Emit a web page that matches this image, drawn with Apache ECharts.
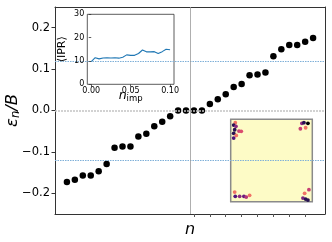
<!DOCTYPE html>
<html><head><meta charset="utf-8">
<script src="https://cdn.jsdelivr.net/npm/echarts@6/dist/echarts.min.js"></script>
<style>html,body{margin:0;padding:0;background:#fff}#c{width:332px;height:242px}</style>
</head><body><div id="c"></div>
<script>
// ---- data ----
const levelIndex = [0,1,2,3,4,5,6,7,8,9,10,11,12,13,14,15,16,17,18,19,20,21,22,23,24,25,26,27,28,29,30,31];
const energies = [-0.173,-0.167,-0.157,-0.157,-0.147,-0.129,-0.090,-0.087,-0.087,-0.063,-0.056,-0.038,-0.027,-0.014,0,0,0,0,
                  0.016,0.027,0.039,0.057,0.064,0.085,0.087,0.092,0.131,0.148,0.158,0.158,0.166,0.175];
const mainXTicks = [16,18,20,22,24,26,28,30];
const mainYTicks = [-0.2,-0.1,0.0,0.1,0.2];
const gapLevels = [0.12,-0.12];
const zeroLevel = 0;
const midIndex = 15.5;

const nImp = [0,0.005,0.01,0.015,0.02,0.025,0.03,0.035,0.04,0.045,0.05,0.055,0.06,0.065,0.07,0.075,0.08,0.085,0.09,0.095,0.1];
const ipr  = [9.7,11.4,10.9,11.3,11.4,11.3,11.4,11.2,11.6,12.6,12.4,12.4,13.2,14.7,13.9,13.9,14.0,13.2,14.0,15.0,14.8];
const iprXTicks = [0,0.05,0.1];

// wavefunction density hot spots in the map inset: [x, y, weight]
const hotX = [4.6,3,5.3,4,8.3,10.6,3,5.6,3, 71.6,73.6,77.6,70,75.3, 4,4.6,9,13.3,15.6,19, 72.6,75.3,77.6,78.6,74.3];
const hotY = [3.4,5.7,7,10.4,11.7,12,14,16,18.7, 4,3.4,4,9.4,8.4, 72.4,76.7,76.7,76.7,77.4,75.7, 78.4,79.4,80.4,70,73.7];
const hotW = [0.3,0.85,0.6,0.85,0.45,0.4,0.85,0.3,0.75, 0.6,0.85,1.0,0.45,0.3, 0.3,0.75,0.6,0.7,0.5,0.3, 0.65,0.85,0.85,0.45,0.3];

// ---- chart ----
const FONT = 'DejaVu Sans';
const fmtMinus = v => (v < 0 ? '\u2212' : '') + Math.abs(v).toFixed(1);
const hot = hotX.map((x,i)=>[x, hotY[i], hotW[i]]);
const frameLine = {show:true, onZero:false, lineStyle:{color:'#333', width:1}};
const frameAxis = (grid, pos, extra) => Object.assign({gridIndex:grid, type:'value', position:pos,
   axisLine:frameLine, axisTick:{show:false}, axisLabel:{show:false}, splitLine:{show:false}}, extra);

const option = {
  animation: false,
  textStyle: {fontFamily: FONT},
  graphic: [
    {type:'text', x:62, y:49.3, rotation:Math.PI/2, z:100,
     style:{text:'\u27e8IPR\u27e9', font:'11px "DejaVu Sans"', fill:'#000', align:'center', verticalAlign:'middle'}}
  ],
  grid: [
    {left:55, top:7, width:270, height:207, outerBoundsMode:'none', containLabel:false, show:false},
    {left:87.3, top:14.3, width:86.7, height:70, outerBoundsMode:'none', containLabel:false, show:true, borderColor:'#333', borderWidth:0.8, backgroundColor:'#fff', z:5},
    {left:230.7, top:119.3, width:81.6, height:82.4, outerBoundsMode:'none', containLabel:false, show:true, borderColor:'#8a8a8a', borderWidth:1.5, backgroundColor:'#fdfbc6', z:5}
  ],
  xAxis: [
    {gridIndex:0, type:'value', min:-1.5, max:32.5, position:'bottom',
     name:'n', nameLocation:'middle', nameGap:8, nameMoveOverlap:false,
     nameTextStyle:{fontSize:16, fontStyle:'italic', color:'#000', verticalAlign:'top'},
     axisLine:frameLine, splitLine:{show:false},
     axisTick:{show:true, length:3, customValues: mainXTicks, lineStyle:{color:'#555'}},
     axisLabel:{show:false}},
    {gridIndex:1, type:'value', min:-0.005, max:0.105, z:6,
     name:'{n|n}{s|imp}', nameLocation:'middle', nameGap:3, nameMoveOverlap:false,
     nameTextStyle:{verticalAlign:'top', rich:{n:{fontSize:12.5, fontStyle:'italic', color:'#000', fontFamily:FONT},
                                                s:{fontSize:8.5, color:'#000', fontFamily:FONT, padding:[7,0,0,0]}}},
     axisLine:{show:false}, splitLine:{show:false},
     axisTick:{show:true, length:2.5, customValues: iprXTicks, lineStyle:{color:'#333', width:0.8}},
     axisLabel:{fontSize:8, color:'#000', margin:3, customValues: iprXTicks, formatter:v=>v.toFixed(2)}},
    {gridIndex:2, type:'value', min:0, max:82, show:false},
    frameAxis(0, 'top', {min:-1.5, max:32.5})
  ],
  yAxis: [
    {gridIndex:0, type:'value', min:-0.25, max:0.25, position:'left',
     name:'{e|\u03b5}{n|n}{e|/B}', nameLocation:'middle', nameGap:33, nameRotate:90, nameMoveOverlap:false,
     nameTextStyle:{rich:{e:{fontSize:16.5, fontStyle:'italic', color:'#000', fontFamily:FONT},
                          n:{fontSize:11.5, fontStyle:'italic', color:'#000', fontFamily:FONT, padding:[6,0,0,0]}}},
     axisLine:frameLine, splitLine:{show:false},
     axisTick:{show:true, length:3.5, customValues: mainYTicks, lineStyle:{color:'#333'}},
     axisLabel:{fontSize:11.5, color:'#000', margin:5, customValues: mainYTicks, formatter:fmtMinus}},
    {gridIndex:1, type:'value', min:0, max:30, interval:10, z:6,
     axisLine:{show:false}, splitLine:{show:false},
     axisTick:{show:true, length:2.5, lineStyle:{color:'#333', width:0.8}},
     axisLabel:{fontSize:8, color:'#000', margin:3}},
    {gridIndex:2, type:'value', min:0, max:82, inverse:true, show:false},
    frameAxis(0, 'right', {min:-0.25, max:0.25})
  ],
  visualMap: {type:'continuous', show:false, seriesIndex:2, dimension:2, min:0, max:1,
    inRange:{color:['#fcfdbf','#fec287','#fb8861','#e3506b','#b5367a','#822681','#51127c','#1d1147','#000004']}},
  series: [
    {type:'scatter', xAxisIndex:0, yAxisIndex:0, z:2,
     data: levelIndex.map((n,i)=>[n, energies[i]]),
     symbolSize:6.5, itemStyle:{color:'#000', opacity:1},
     markLine:{silent:true, symbol:'none', label:{show:false}, animation:false,
       data:[
         ...gapLevels.map(v=>({yAxis:v, lineStyle:{color:'#7fb0d8', type:[1.5,1], width:1}})),
         {yAxis:zeroLevel, lineStyle:{color:'#c4c4c4', type:[2,1], width:1.5}},
         {xAxis:midIndex, lineStyle:{color:'#9a9a9a', type:'solid', width:0.8}}
       ]}},
    {type:'line', xAxisIndex:1, yAxisIndex:1, z:7,
     data: nImp.map((x,i)=>[x, ipr[i]]),
     showSymbol:false, lineStyle:{color:'#1f77b4', width:1.1}},
    {type:'scatter', xAxisIndex:2, yAxisIndex:2, z:7,
     data: hot, symbolSize:3.8, itemStyle:{opacity:1}}
  ]
};
const chart = echarts.init(document.getElementById('c'), null, {renderer:'canvas'});
chart.setOption(option);
</script></body></html>
